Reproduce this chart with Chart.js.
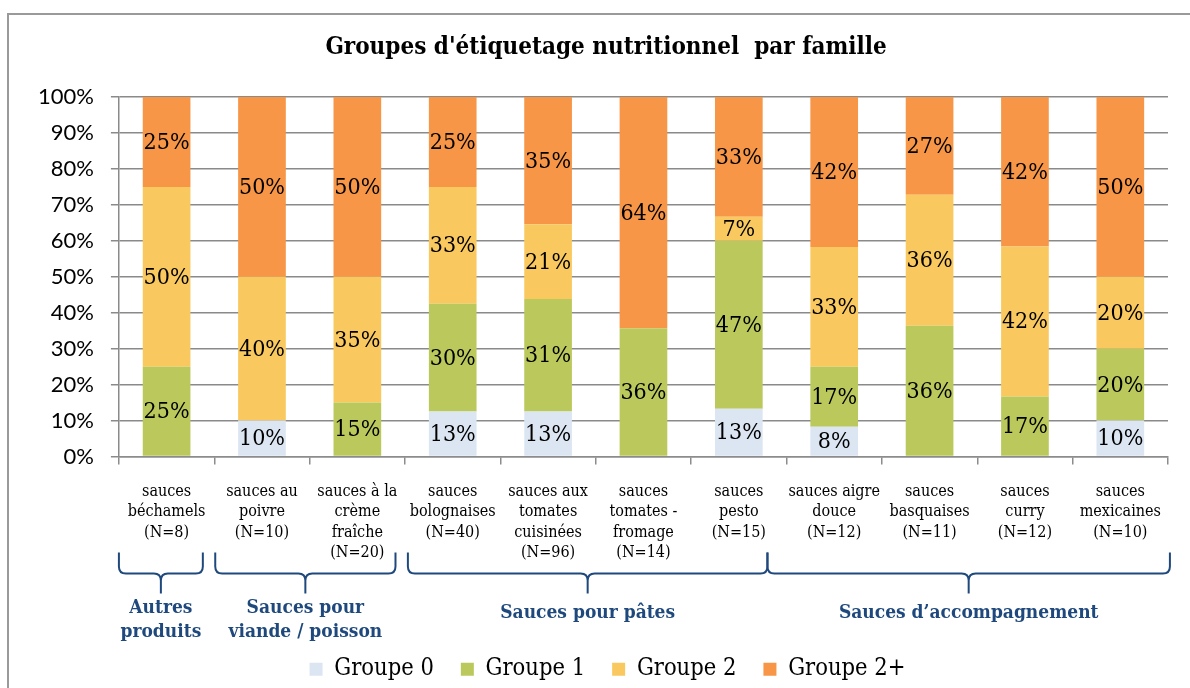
<!DOCTYPE html>
<html><head><meta charset="utf-8">
<script src="https://cdn.jsdelivr.net/npm/chart.js@4.4.0/dist/chart.umd.min.js"></script>
<style>html,body{margin:0;padding:0;background:#fff}#wrap{width:1190px;height:688px;position:relative}</style>
</head><body><div id="wrap"><canvas id="c" width="1190" height="688"></canvas></div>
<script>
const title = "Groupes d'étiquetage nutritionnel  par famille";
const categories = [
  ['sauces','béchamels','(N=8)'],
  ['sauces au','poivre','(N=10)'],
  ['sauces à la','crème','fraîche','(N=20)'],
  ['sauces','bolognaises','(N=40)'],
  ['sauces aux','tomates','cuisinées','(N=96)'],
  ['sauces','tomates -','fromage','(N=14)'],
  ['sauces','pesto','(N=15)'],
  ['sauces aigre','douce','(N=12)'],
  ['sauces','basquaises','(N=11)'],
  ['sauces','curry','(N=12)'],
  ['sauces','mexicaines','(N=10)']
];
const seriesNames = ['Groupe 0','Groupe 1','Groupe 2','Groupe 2+'];
const groupe0  = [0, 10, 0, 12.5, 12.5, 0, 13.3, 8.3, 0, 0, 10];
const groupe1  = [25, 0, 15, 30, 31.3, 35.7, 46.7, 16.7, 36.4, 16.7, 20];
const groupe2  = [50, 40, 35, 32.5, 20.8, 0, 6.7, 33.3, 36.4, 41.7, 20];
const groupe2p = [25, 50, 50, 25, 35.4, 64.3, 33.3, 41.7, 27.2, 41.6, 50];
const yTickLabels = ['0%','10%','20%','30%','40%','50%','60%','70%','80%','90%','100%'];
// family groups: label lines, first category index, last category index
const familyNames = [['Autres','produits'], ['Sauces pour','viande / poisson'], ['Sauces pour pâtes'], ['Sauces d’accompagnement']];
const familyFirst = [0, 1, 3, 7];
const familyLast  = [0, 2, 6, 10];

const colors = ['#dce6f2', '#bbc95c', '#f9c95f', '#f79646'];
const SERIF = "'DejaVu Serif Condensed','DejaVu Serif',serif";
const BLUE = '#1f497d';

const borderPlugin = {
  id: 'frame',
  afterLayout(chart) {
    const lg = chart.legend;
    if (lg) { lg.left += 13; lg.right += 13; lg.top += 3; lg.bottom += 3; }
  },
  beforeDraw(chart) {
    const c = chart.ctx;
    c.save();
    c.fillStyle = '#fff';
    c.fillRect(0, 0, chart.width, chart.height);
    c.strokeStyle = '#9a9a9a';
    c.lineWidth = 2;
    c.beginPath();
    c.moveTo(8, chart.height + 5);
    c.lineTo(8, 14);
    c.lineTo(chart.width + 5, 14);
    c.stroke();
    // chart title
    c.fillStyle = '#000';
    c.font = 'bold 24px ' + SERIF;
    c.textAlign = 'center';
    c.textBaseline = 'middle';
    c.fillText(title, 606, 48);
    c.restore();
  }
};

const labelPlugin = {
  id: 'segLabels',
  afterDatasetsDraw(chart) {
    const c = chart.ctx;
    c.save();
    c.font = '23px ' + SERIF;
    c.fillStyle = '#000';
    c.textAlign = 'center';
    c.textBaseline = 'middle';
    chart.data.datasets.forEach((ds, di) => {
      const meta = chart.getDatasetMeta(di);
      meta.data.forEach((bar, i) => {
        const v = ds.data[i];
        if (!v) return;
        const y = (bar.y + bar.base) / 2;
        c.fillText(Math.round(v) + '%', bar.x, y + 1);
      });
    });
    c.restore();
  }
};

const bracePlugin = {
  id: 'braces',
  afterDraw(chart) {
    const c = chart.ctx;
    const xs = chart.scales.x;
    const bottom = chart.chartArea.bottom;
    const yT = bottom + 96, yH = bottom + 117, yP = bottom + 137, r = 7;
    c.save();
    c.strokeStyle = BLUE;
    c.lineWidth = 2;
    familyNames.forEach((lines, k) => {
      const half = xs.getPixelForValue(1) - xs.getPixelForValue(0);
      const offs = [[0, -0.12 ], [0.01, -0.1], [0.03, -0.2], [-0.2, 0.02]][k];
      const L = xs.getPixelForValue(familyFirst[k]) - half / 2 + offs[0] * half;
      const R = xs.getPixelForValue(familyLast[k]) + half / 2 + offs[1] * half;
      const M = (L + R) / 2;
      c.beginPath();
      c.moveTo(L, yT);
      c.lineTo(L, yH - r);
      c.quadraticCurveTo(L, yH, L + r, yH);
      c.lineTo(M - r, yH);
      c.quadraticCurveTo(M, yH, M, yH + r);
      c.lineTo(M, yP);
      c.moveTo(R, yT);
      c.lineTo(R, yH - r);
      c.quadraticCurveTo(R, yH, R - r, yH);
      c.lineTo(M + r, yH);
      c.quadraticCurveTo(M, yH, M, yH + r);
      c.stroke();
      c.fillStyle = BLUE;
      c.font = 'bold 19px ' + SERIF;
      c.textAlign = 'center';
      c.textBaseline = 'middle';
      if (lines.length === 2) {
        c.fillText(lines[0], M, bottom + 152);
        c.fillText(lines[1], M, bottom + 176);
      } else {
        c.fillText(lines[0], M, bottom + 157);
      }
    });
    c.restore();
  }
};

const datasets = [groupe0, groupe1, groupe2, groupe2p].map((d, i) => ({
  label: seriesNames[i],
  data: d,
  backgroundColor: colors[i],
  borderWidth: 0,
  barPercentage: 0.5,
  categoryPercentage: 1.0
}));

new Chart(document.getElementById('c'), {
  type: 'bar',
  data: { labels: categories, datasets },
  plugins: [borderPlugin, labelPlugin, bracePlugin],
  options: {
    responsive: false,
    animation: false,
    layout: { padding: { left: 21, right: 22, top: 97, bottom: 0 } },
    plugins: {
      tooltip: { enabled: false },
      title: { display: false },
      legend: {
        position: 'bottom',
        labels: {
          boxWidth: 13, boxHeight: 13, padding: 27, color: '#000',
          font: { family: SERIF, size: 23.5 }
        }
      }
    },
    scales: {
      x: {
        stacked: true,
        grid: { display: true, drawOnChartArea: false, drawTicks: true, tickLength: 8, color: '#8c8c8c', lineWidth: 1.5 },
        border: { display: true, color: '#8c8c8c', width: 1.5 },
        ticks: { autoSkip: false, maxRotation: 0, minRotation: 0, padding: 17, color: '#000',
          font: { family: SERIF, size: 16, lineHeight: 1.28 } },
        afterFit(s) { s.height = 171; }
      },
      y: {
        stacked: true, min: 0, max: 100,
        grid: { color: '#8a8a8a', lineWidth: 1.5, tickLength: 8 },
        border: { display: true, color: '#8a8a8a', width: 1.5 },
        ticks: { stepSize: 10, padding: 17, color: '#000', font: { family: 'Lato', size: 22 },
          callback: (v, i) => yTickLabels[i] }
      }
    }
  }
});
</script>
</body></html>
